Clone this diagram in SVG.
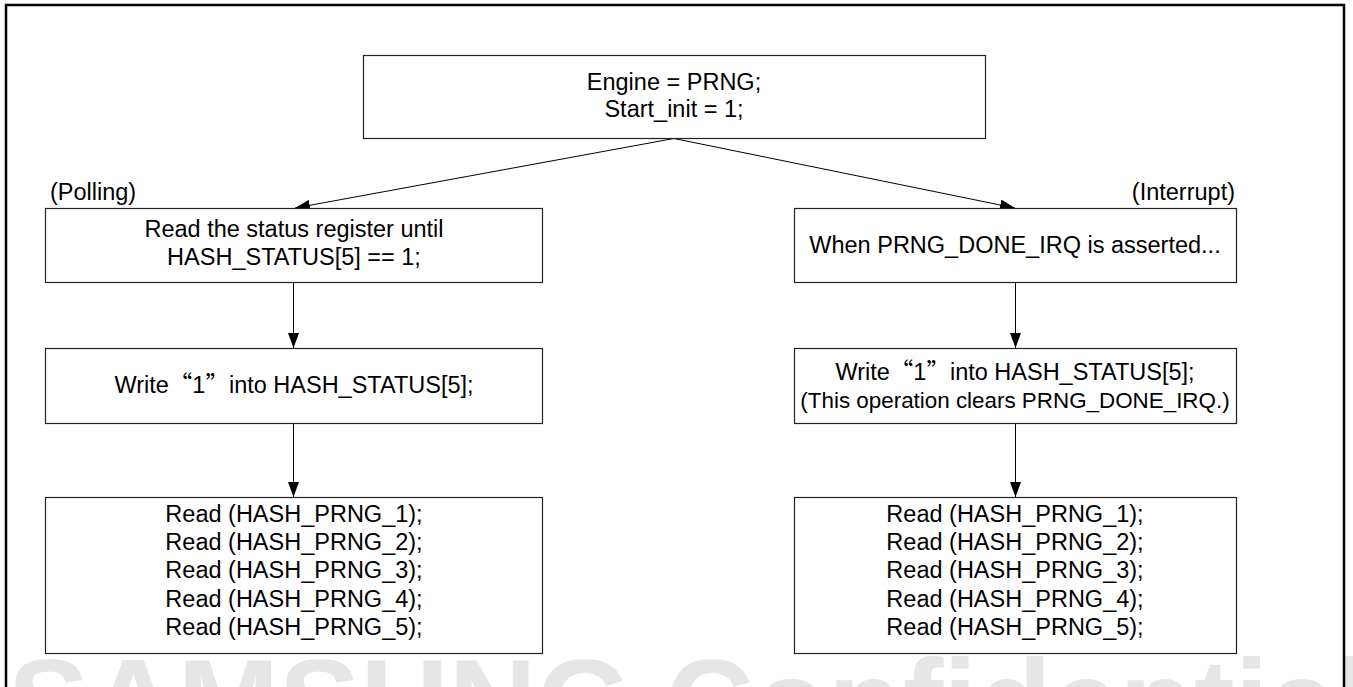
<svg xmlns="http://www.w3.org/2000/svg" width="1353" height="687" viewBox="0 0 1353 687">
<style>
.box{fill:#fff;stroke:#222;stroke-width:1.2}
.t{font-family:"Liberation Sans",Arial,sans-serif;font-size:23.5px;fill:#000;text-anchor:middle}
.cjk{font-family:"Noto Sans CJK SC",sans-serif}
.wm{font-family:"Liberation Sans",Arial,sans-serif;font-weight:bold;font-size:122px;fill:#e6e6e6}
.ln{stroke:#000;stroke-width:1;fill:none}
</style>
<defs>
<marker id="ah" viewBox="0 0 15 11" refX="15" refY="5.5" markerWidth="15" markerHeight="11" markerUnits="userSpaceOnUse" orient="auto">
<path d="M0,0 L15,5.5 L0,11 Z" fill="#000"/>
</marker>
</defs>
<rect width="1353" height="687" fill="#fff"/>
<text class="wm" x="8" y="745">SAMSUNG Confidential</text>
<rect x="6" y="5" width="1338" height="720" fill="none" stroke="#000" stroke-width="2.5"/>
<g id="connectors">
<line class="ln" x1="674" y1="138.5" x2="295" y2="208" marker-end="url(#ah)"/>
<line class="ln" x1="674" y1="138.5" x2="1015" y2="208" marker-end="url(#ah)"/>
<line class="ln" x1="293.5" y1="282" x2="293.5" y2="348" marker-end="url(#ah)"/>
<line class="ln" x1="293.5" y1="423" x2="293.5" y2="497" marker-end="url(#ah)"/>
<line class="ln" x1="1015.5" y1="282" x2="1015.5" y2="348" marker-end="url(#ah)"/>
<line class="ln" x1="1015.5" y1="423" x2="1015.5" y2="497" marker-end="url(#ah)"/>
</g>
<g id="start">
<rect class="box" x="363.5" y="55.5" width="622" height="83"/>
<text class="t" x="674" y="90">Engine = PRNG;</text>
<text class="t" x="674" y="117">Start_init = 1;</text>
</g>
<g id="label-polling">
<text class="t" x="50" y="200" style="text-anchor:start">(Polling)</text>
</g>
<g id="label-interrupt">
<text class="t" x="1235" y="200" style="text-anchor:end">(Interrupt)</text>
</g>
<g id="poll-read-status">
<rect class="box" x="45.5" y="208.5" width="497" height="74"/>
<text class="t" x="294" y="237">Read the status register until</text>
<text class="t" x="294" y="265">HASH_STATUS[5] == 1;</text>
</g>
<g id="int-when">
<rect class="box" x="794.5" y="208.5" width="442" height="74"/>
<text class="t" x="1015" y="253">When PRNG_DONE_IRQ is asserted...</text>
</g>
<g id="poll-write">
<rect class="box" x="45.5" y="348.5" width="497" height="75"/>
<text class="t" x="294" y="393">Write<tspan class="cjk">“</tspan>1<tspan class="cjk">”</tspan>into HASH_STATUS[5];</text>
</g>
<g id="int-write">
<rect class="box" x="794.5" y="348.5" width="442" height="75"/>
<text class="t" x="1015" y="380">Write<tspan class="cjk">“</tspan>1<tspan class="cjk">”</tspan>into HASH_STATUS[5];</text>
<text class="t" x="1015" y="408" style="font-size:22.4px">(This operation clears PRNG_DONE_IRQ.)</text>
</g>
<g id="poll-read">
<rect class="box" x="45.5" y="497.5" width="497" height="156"/>
<text class="t" x="294" y="522">Read (HASH_PRNG_1);</text>
<text class="t" x="294" y="550">Read (HASH_PRNG_2);</text>
<text class="t" x="294" y="578">Read (HASH_PRNG_3);</text>
<text class="t" x="294" y="607">Read (HASH_PRNG_4);</text>
<text class="t" x="294" y="635">Read (HASH_PRNG_5);</text>
</g>
<g id="int-read">
<rect class="box" x="794.5" y="497.5" width="442" height="156"/>
<text class="t" x="1015" y="522">Read (HASH_PRNG_1);</text>
<text class="t" x="1015" y="550">Read (HASH_PRNG_2);</text>
<text class="t" x="1015" y="578">Read (HASH_PRNG_3);</text>
<text class="t" x="1015" y="607">Read (HASH_PRNG_4);</text>
<text class="t" x="1015" y="635">Read (HASH_PRNG_5);</text>
</g>
</svg>
